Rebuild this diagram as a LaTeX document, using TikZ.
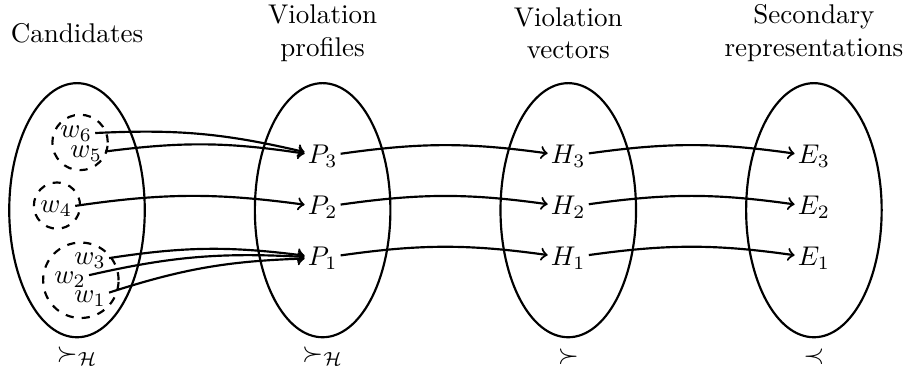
\documentclass[tikz,border=0pt]{standalone}
\usepackage{amsmath,amssymb}
\usetikzlibrary{shapes.geometric}

\begin{document}
\begin{tikzpicture}[
			set/.style={ellipse,draw,thick,minimum width=1.76cm,minimum height=3.3cm,inner sep=0pt},
			grp/.style={circle,draw,thick,dashed,inner sep=0pt},
			el/.style={inner sep=1pt},
			map/.style={->,thick,bend left=8}]
			
			\useasboundingbox (0,0) rectangle (11.74,4.86);
			
			% The four sets
			\foreach \n/\x in {C/1.0,P/4.19,H/7.38,E/10.57} {
				\node[set] (set\n) at (\x,2.13) {};
			}
			
			% Headings above the sets
			\node (tC) at (1.0,4.43) {Candidates};
			\node[align=center] (tP) at (4.19,4.43) {Violation\\profiles};
			\node[align=center] (tH) at (7.38,4.43) {Violation\\vectors};
			\node[align=center] (tE) at (10.57,4.43) {Secondary\\representations};
			
			% Orders below the sets
			\node (oC) at (1.0,0.23) {$\succ_{\mathcal{H}}$};
			\node (oP) at (4.19,0.23) {$\succ_{\mathcal{H}}$};
			\node (oH) at (7.38,0.23) {$\succ$};
			\node (oE) at (10.57,0.23) {$\prec$};
			
			% Groups of candidates
			\node[grp,minimum size=0.72cm] (g3) at (1.04,3.01) {};
			\node[grp,minimum size=0.6cm] (g2) at (0.74,2.19) {};
			\node[grp,minimum size=0.98cm] (g1) at (1.05,1.22) {};
			\node[el] (w6) at (0.99,3.12) {$w_6$};
			\node[el] (w5) at (1.12,2.86) {$w_5$};
			\node[el] (w4) at (0.73,2.15) {$w_4$};
			\node[el] (w3) at (1.17,1.47) {$w_3$};
			\node[el] (w2) at (0.91,1.23) {$w_2$};
			\node[el] (w1) at (1.17,0.98) {$w_1$};
			
			% Rows: profiles, vectors, representations
			\foreach \i/\y in {1/1.51,2/2.17,3/2.83} {
				\node[el] (P\i) at (4.19,\y) {$P_\i$};
				\node[el] (H\i) at (7.38,\y) {$H_\i$};
				\node[el] (E\i) at (10.57,\y) {$E_\i$};
				\draw[map] (P\i) to (H\i);
				\draw[map] (H\i) to (E\i);
			}
			
			% Candidates to profiles
			\draw[map] (w6) to (P3);
			\draw[map] (w5) to (P3);
			\draw[map] (w4) to (P2);
			\foreach \w in {w3,w2,w1} {
				\draw[map] (\w) to (P1);
			}
			
		\end{tikzpicture}
\end{document}
